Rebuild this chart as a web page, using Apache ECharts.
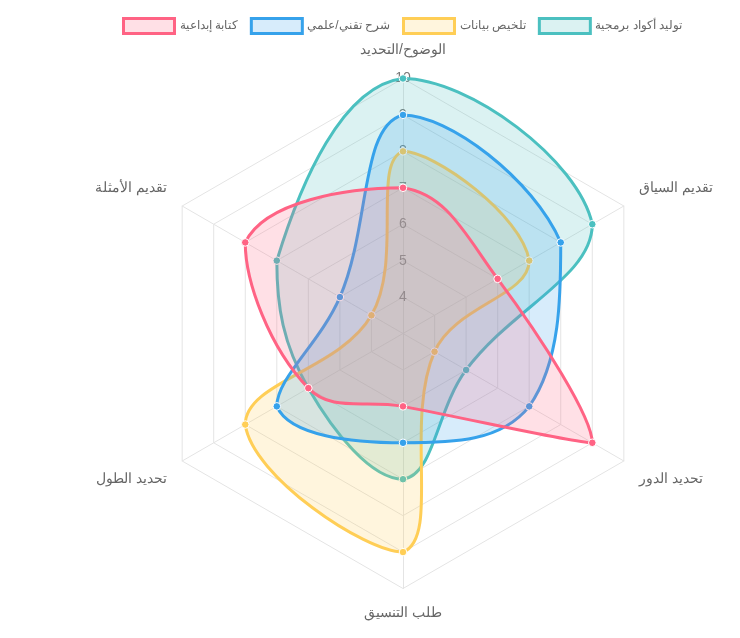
<!DOCTYPE html>
<html>
<head>
<meta charset="utf-8">
<script src="https://cdn.jsdelivr.net/npm/echarts@6/dist/echarts.min.js"></script>
<style>
  html, body { margin: 0; padding: 0; background: #fff; }
  #chart { width: 740px; height: 638px; }
</style>
</head>
<body>
<div id="chart"></div>
<script>
// axes, clockwise from the top
const categories = ['الوضوح/التحديد', 'تقديم السياق', 'تحديد الدور', 'طلب التنسيق', 'تحديد الطول', 'تقديم الأمثلة'];
const seriesNames = ['كتابة إبداعية', 'شرح تقني/علمي', 'تلخيص بيانات', 'توليد أكواد برمجية'];
const creativeWriting = [7, 6, 9, 5, 6, 8];
const technicalExplain = [9, 8, 7, 6, 7, 5];
const dataSummary = [8, 7, 4, 9, 8, 4];
const codeGeneration = [10, 9, 5, 7, 6, 7];
const scaleMin = 3;
const scaleMax = 10;

const lineColors = ['rgb(255, 99, 132)', 'rgb(54, 162, 235)', 'rgb(255, 206, 86)', 'rgb(75, 192, 192)'];
const fillColors = ['rgba(255, 99, 132, 0.2)', 'rgba(54, 162, 235, 0.2)', 'rgba(255, 206, 86, 0.2)', 'rgba(75, 192, 192, 0.2)'];
const allValues = [creativeWriting, technicalExplain, dataSummary, codeGeneration];

const font = "'Helvetica Neue', Helvetica, Arial, sans-serif";
const center = [403, 333.5];
const radius = 255;
const step = 360 / categories.length;
const tension = 0.4;

const clamp = (v, lo, hi) => Math.max(lo, Math.min(hi, v));

// closed spline, control points kept inside the box of the points
function loopRenderer(values, stroke, fill) {
  return function (params, api) {
    if (params.dataIndex !== 0) return null;
    const pts = values.map((v, i) => api.coord([v, i * step]));
    const n = pts.length;
    const xs = pts.map((p) => p[0]);
    const ys = pts.map((p) => p[1]);
    const box = [Math.min(...xs), Math.max(...xs), Math.min(...ys), Math.max(...ys)];
    const cap = (q) => [clamp(q[0], box[0], box[1]), clamp(q[1], box[2], box[3])];
    const cps = pts.map((p, i) => {
      const prev = pts[(i + n - 1) % n];
      const next = pts[(i + 1) % n];
      const d01 = Math.hypot(p[0] - prev[0], p[1] - prev[1]);
      const d12 = Math.hypot(next[0] - p[0], next[1] - p[1]);
      let s01 = d01 / (d01 + d12);
      let s12 = d12 / (d01 + d12);
      if (isNaN(s01)) s01 = 0;
      if (isNaN(s12)) s12 = 0;
      const fa = tension * s01;
      const fb = tension * s12;
      return {
        before: cap([p[0] - fa * (next[0] - prev[0]), p[1] - fa * (next[1] - prev[1])]),
        after: cap([p[0] + fb * (next[0] - prev[0]), p[1] + fb * (next[1] - prev[1])])
      };
    });
    let d = 'M' + pts[0][0] + ' ' + pts[0][1];
    for (let i = 0; i < n; i++) {
      const j = (i + 1) % n;
      d += ' C' + cps[i].after.join(' ') + ' ' + cps[j].before.join(' ') + ' ' + pts[j].join(' ');
    }
    d += ' Z';
    const children = [{
      type: 'path',
      shape: { pathData: d },
      style: { fill: fill, stroke: stroke, lineWidth: 3 }
    }];
    pts.forEach((p) => {
      children.push({
        type: 'circle',
        shape: { cx: p[0], cy: p[1], r: 3.8 },
        style: { fill: stroke, stroke: '#fff', lineWidth: 1 }
      });
    });
    return { type: 'group', children: children };
  };
}

// chart.js paints the last dataset first
const series = [];
for (let k = allValues.length - 1; k >= 0; k--) {
  series.push({
    type: 'custom',
    name: seriesNames[k],
    coordinateSystem: 'polar',
    itemStyle: { color: lineColors[k] },
    renderItem: loopRenderer(allValues[k], lineColors[k], fillColors[k]),
    data: allValues[k].map((v, i) => [v, i * step]),
    silent: true
  });
}

// echarts radar runs counter-clockwise, so flip the order after the first axis
const radarOrder = [0].concat(categories.map((c, i) => i).slice(1).reverse());

// nudge the side labels up or down like the original
function nameStyle(name) {
  const i = categories.indexOf(name);
  if (i === 0) return 'top';
  if (i === 1 || i === 5) return 'up';
  if (i === 2 || i === 4) return 'down';
  return 'plain';
}
const nameText = { color: '#666', fontSize: 14, fontFamily: font };

const chart = echarts.init(document.getElementById('chart'));
chart.setOption({
  animation: false,
  legend: {
    top: 12,
    left: 117,
    itemWidth: 51,
    itemHeight: 15,
    itemGap: 12,
    textStyle: { color: '#666', fontSize: 12, fontFamily: font },
    data: seriesNames.map((name, i) => ({
      name: name,
      icon: 'rect',
      itemStyle: { color: fillColors[i], borderColor: lineColors[i], borderWidth: 3 }
    }))
  },
  radar: {
    center: center,
    radius: radius,
    startAngle: 90,
    shape: 'polygon',
    splitNumber: scaleMax - scaleMin,
    nameGap: 18,
    indicator: radarOrder.map((i) => ({ name: categories[i], min: scaleMin, max: scaleMax })),
    axisName: {
      color: '#666',
      fontSize: 14,
      fontFamily: font,
      formatter: (name) => '{' + nameStyle(name) + '|' + name + '}',
      rich: {
        top: Object.assign({ padding: [0, 0, 3, 0] }, nameText),
        up: Object.assign({ padding: [0, 0, 18, 0] }, nameText),
        down: Object.assign({ padding: [18, 0, 0, 0] }, nameText),
        plain: Object.assign({}, nameText)
      }
    },
    axisLine: { lineStyle: { color: '#e4e4e4' } },
    splitLine: { lineStyle: { color: '#e4e4e4' } },
    splitArea: { show: false },
    axisTick: { show: false },
    axisLabel: { show: false }
  },
  polar: { center: center, radius: radius },
  angleAxis: {
    type: 'value', min: 0, max: 360, startAngle: 90, clockwise: true, show: false
  },
  radiusAxis: {
    type: 'value',
    min: scaleMin,
    max: scaleMax,
    interval: 1,
    axisLine: { show: false },
    axisTick: { show: false },
    splitLine: { show: false },
    axisLabel: {
      margin: 0,
      align: 'center',
      verticalAlign: 'middle',
      color: '#777',
      fontSize: 14,
      fontFamily: font,
      formatter: (v) => (v === scaleMin ? '' : String(v))
    }
  },
  series: series
});
</script>
</body>
</html>
